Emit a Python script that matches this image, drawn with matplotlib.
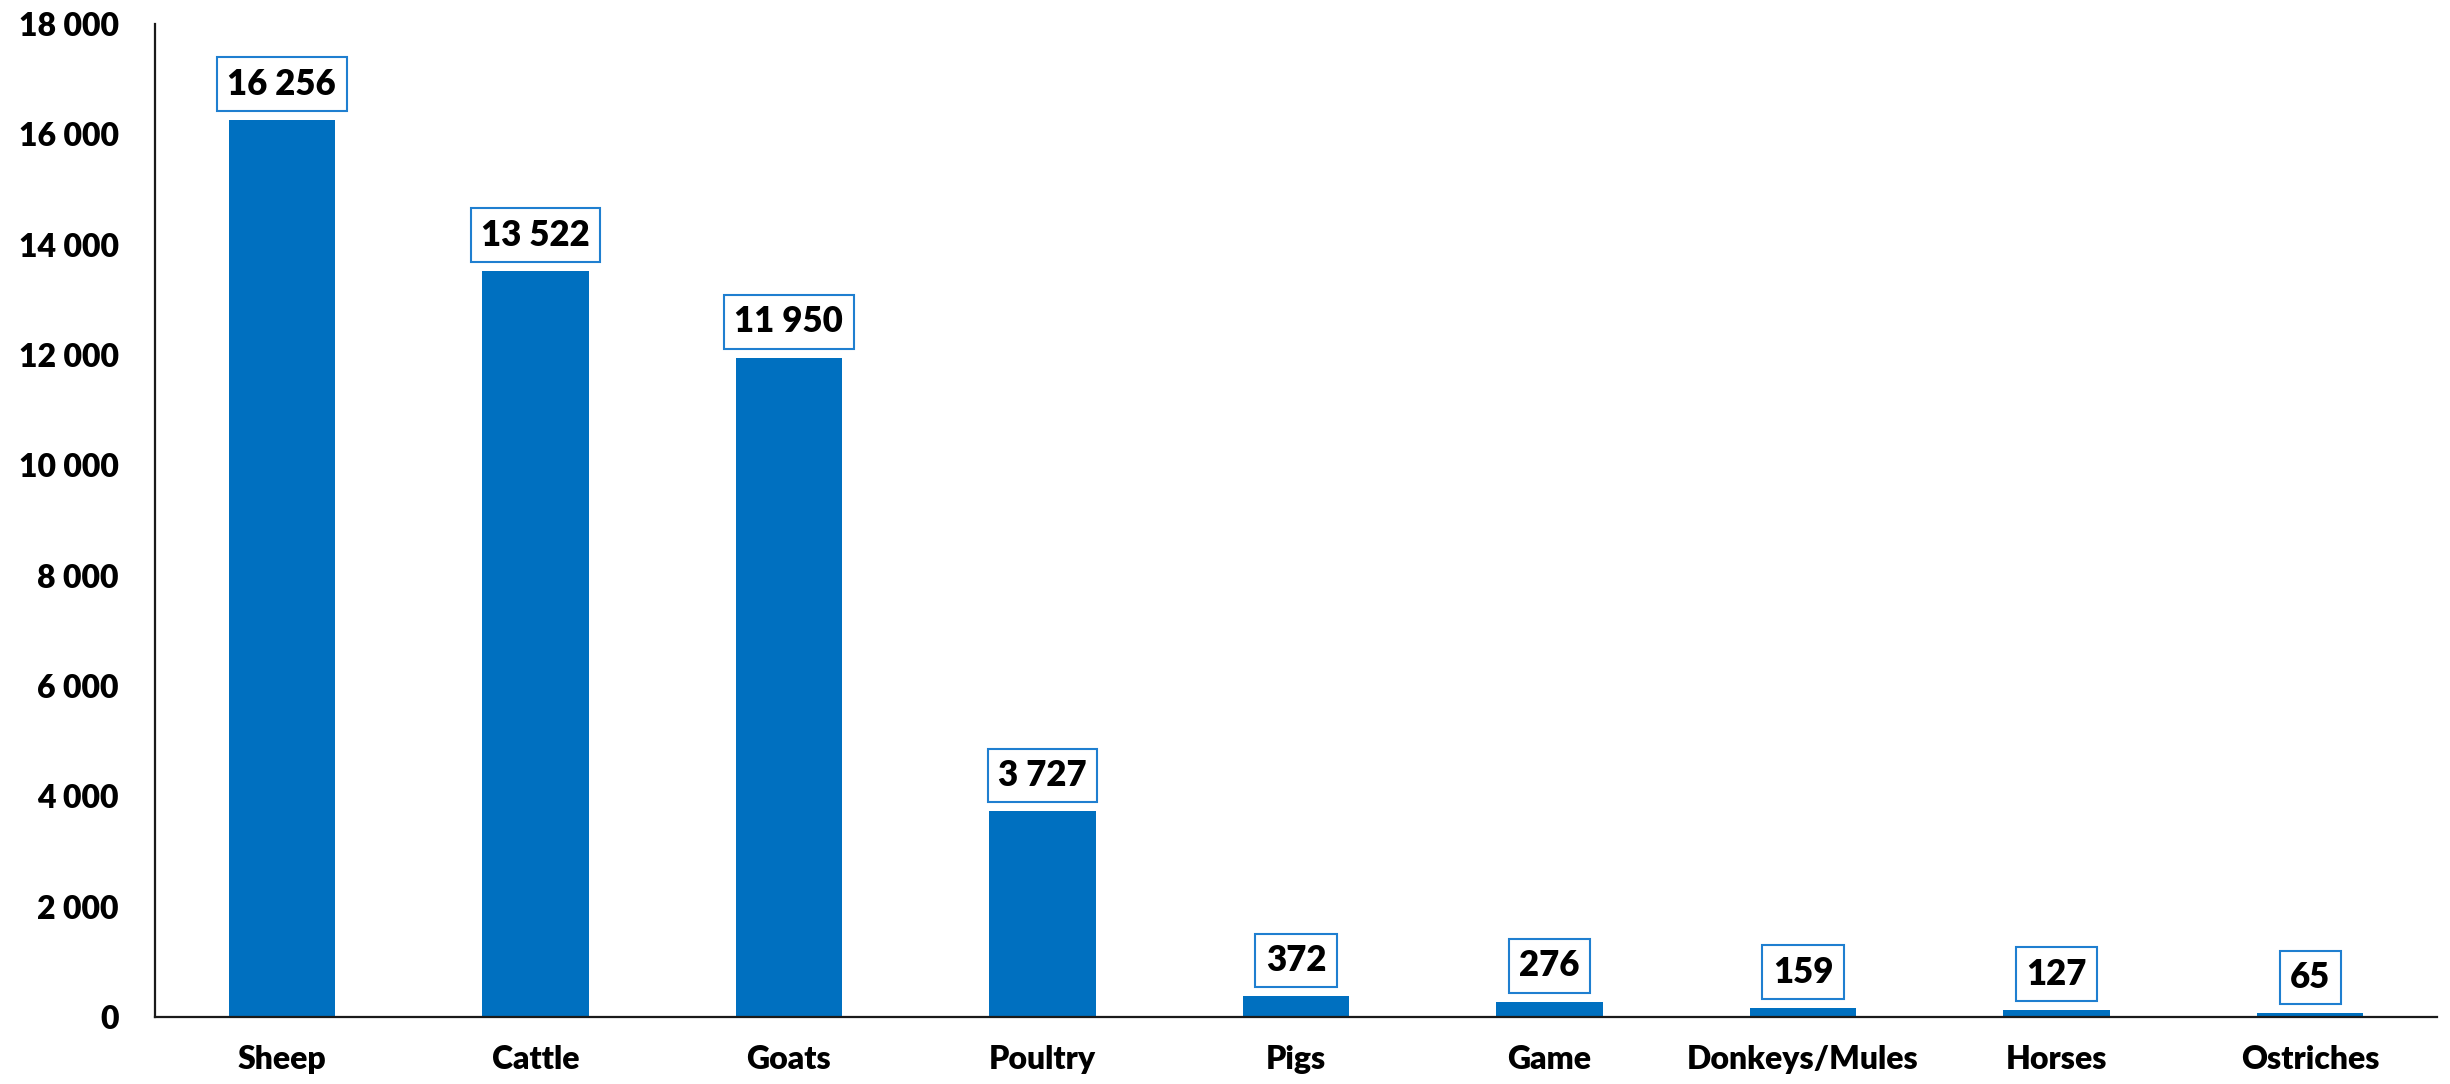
import matplotlib
matplotlib.use("Agg")
import matplotlib.pyplot as plt
from matplotlib.ticker import FuncFormatter

categories = ["Sheep", "Cattle", "Goats", "Poultry", "Pigs", "Game", "Donkeys/Mules", "Horses", "Ostriches"]
values = [16256, 13522, 11950, 3727, 372, 276, 159, 127, 65]
yticks = [0, 2000, 4000, 6000, 8000, 10000, 12000, 14000, 16000, 18000]

plt.rcParams['font.family'] = ['Lato', 'DejaVu Sans']
W = "heavy"

def fmt(v):
    return f"{int(v):,}".replace(",", " ")

fig = plt.figure(figsize=(24.5, 10.84), dpi=100)
ax = fig.add_axes([155/2450, (1084-1017)/1084, 2282/2450, (1017-24)/1084])

x = list(range(len(categories)))
bars = ax.bar(x, values, width=0.42, color="#0070C0", zorder=2)

ax.set_xlim(-0.5, len(categories) - 0.5)
ax.set_ylim(0, 18000)
ax.set_yticks(yticks)
ax.yaxis.set_major_formatter(FuncFormatter(lambda v, p: fmt(v)))
ax.set_xticks(x)
ax.set_xticklabels(categories)

for s in ["top", "right"]:
    ax.spines[s].set_visible(False)
for s in ["left", "bottom"]:
    ax.spines[s].set_linewidth(1.6)
    ax.spines[s].set_color("#1a1a1a")

ax.tick_params(axis="y", length=0, pad=26, labelsize=23)
ax.tick_params(axis="x", length=0, pad=20, labelsize=23)
for lab in ax.get_xticklabels() + ax.get_yticklabels():
    lab.set_fontweight(W)

for xi, v in zip(x, values):
    ax.annotate(fmt(v), xy=(xi, v), xytext=(0, 14), textcoords="offset points",
                ha="center", va="bottom", fontsize=25, fontweight=W, color="black",
                bbox=dict(boxstyle="square,pad=0.3", fc="white", ec="#1F7FD0", lw=1.5))

fig.savefig("out.png", dpi=100)
